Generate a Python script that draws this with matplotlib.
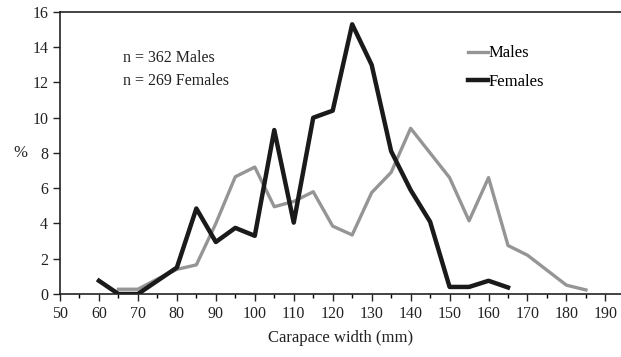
import numpy as np
import matplotlib.pyplot as plt

plt.rcParams['font.family'] = ['Liberation Serif', 'DejaVu Serif']

# carapace width classes (mm) and % frequency
males_x = [65, 70, 75, 80, 85, 90, 95, 100, 105, 110, 115, 120, 125, 130, 135,
           140, 145, 150, 155, 160, 165, 170, 175, 180, 185]
males_pct = [0.27, 0.27, 0.85, 1.4, 1.65, 4.0, 6.65, 7.2, 4.95, 5.25, 5.8, 3.85,
             3.35, 5.75, 6.9, 9.4, 8.0, 6.6, 4.15, 6.6, 2.75, 2.2, 1.35, 0.5, 0.23]

females_x = [60, 65, 70, 75, 80, 85, 90, 95, 100, 105, 110, 115, 120, 125, 130,
             135, 140, 145, 150, 155, 160, 165]
females_pct = [0.75, 0.0, 0.0, 0.75, 1.5, 4.85, 2.95, 3.75, 3.3, 9.3, 4.05, 10.0,
               10.4, 15.3, 13.0, 8.1, 5.9, 4.1, 0.4, 0.4, 0.75, 0.37]

fig = plt.figure(figsize=(6.21, 3.57), dpi=100)
ax = fig.add_axes([0.0966, 0.1765, 0.9034, 0.79])

ax.plot(males_x, males_pct, color='#959595', lw=2.4, label='Males')
ax.plot(females_x, females_pct, color='#1a1a1a', lw=3.2, label='Females')

ax.set_xlim(50, 194)
ax.set_ylim(0, 16)
ax.set_xticks(np.arange(50, 191, 10))
ax.set_xticks(np.arange(55, 191, 10), minor=True)
ax.set_yticks(np.arange(0, 17, 2))
ax.tick_params(axis='both', which='major', direction='out', length=5, width=1,
               labelsize=11.5, colors='#222222')
ax.tick_params(axis='x', which='minor', direction='out', length=3, width=1)
ax.spines['right'].set_visible(False)
for s in ['left', 'bottom', 'top']:
    ax.spines[s].set_color('#222222')
    ax.spines[s].set_linewidth(1.2)

ax.set_xlabel('Carapace width (mm)', fontsize=12, color='#222222', labelpad=6)
ax.set_ylabel('%', fontsize=12, rotation=0, color='#222222', va='center')
ax.yaxis.set_label_coords(-0.07, 0.5)

ax.text(0.113, 0.864, 'n = 362 Males\nn = 269 Females', transform=ax.transAxes,
        fontsize=11.5, color='#222222', va='top', linespacing=1.55)

ax.legend(loc='upper left', bbox_to_anchor=(0.716, 0.905), frameon=False,
          fontsize=12, handlelength=1.2, handletextpad=0.0, labelspacing=0.75,
          borderaxespad=0)

fig.savefig('out.png', dpi=100)
